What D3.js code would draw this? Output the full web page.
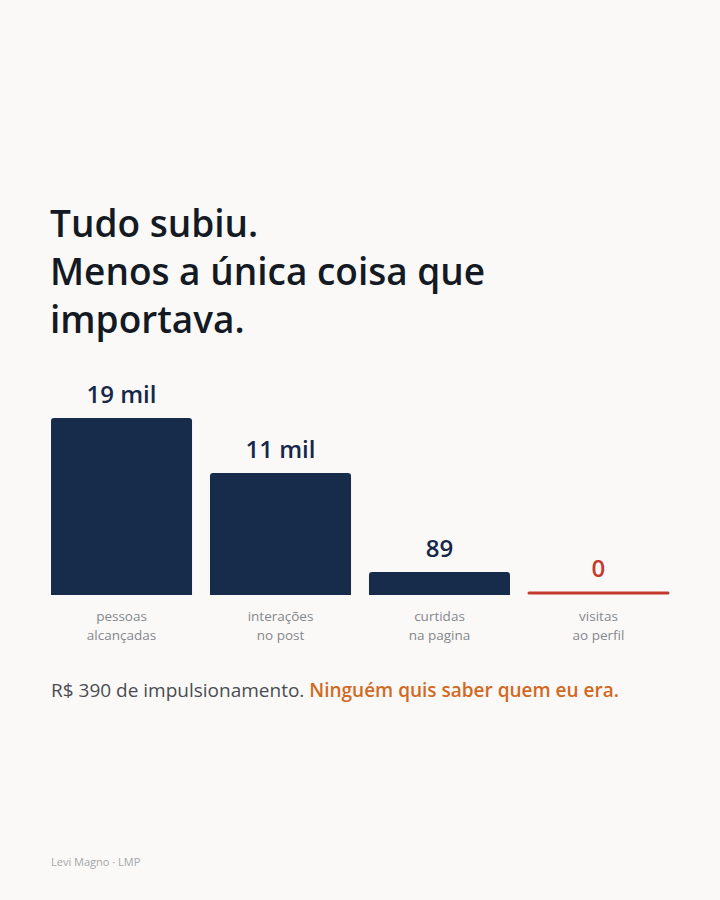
<!DOCTYPE html>
<html lang='pt'>
	<head>
		<meta charset='utf-8'>
		<title>Tudo subiu</title>
		<script type='text/javascript' src='https://cdn.jsdelivr.net/npm/d3@7'></script>
		<style>
			body { margin: 0; background: #faf9f7; }
			text { font-family: 'Open Sans', 'Noto Sans', sans-serif; }
		</style>
	</head>
	<body>
		<svg id='svg' width='720' height='900'></svg>
		<script type='text/javascript'>
		{
			var categories = ['pessoas|alcançadas', 'interações|no post', 'curtidas|na pagina', 'visitas|ao perfil'];
			var values = [19000, 11000, 89, 0];
			var value_labels = ['19 mil', '11 mil', '89', '0'];
			var title_lines = ['Tudo subiu.', 'Menos a única coisa que', 'importava.'];

			var svg = d3.select('#svg');
			svg.append('rect').attr('width', 720).attr('height', 900).attr('fill', '#faf9f7');

			var base_y = 595;
			var min_h = 23;

			svg.selectAll('.title').data(title_lines).enter().append('text')
				.attr('class', 'title')
				.attr('x', 50).attr('y', (d, i) => 237 + i * 48)
				.attr('font-size', 37).attr('font-weight', 600).attr('fill', '#141a24')
				.text(d => d);

			var x = d3.scaleBand().domain(d3.range(values.length)).range([51, 669]).paddingInner(0.113);
			var y = d3.scalePow().exponent(0.68).domain([0, d3.max(values)]).range([0, 177]);
			var bar_h = v => v > 0 ? Math.max(min_h, y(v)) : 0;

			var g = svg.selectAll('.bar').data(values).enter().append('g')
				.attr('class', 'bar')
				.attr('transform', (d, i) => 'translate(' + x(i) + ',0)');

			// rounded top corners only
			g.filter(d => d > 0).append('path')
				.attr('fill', '#172b4b')
				.attr('d', d => {
					var w = x.bandwidth(), h = bar_h(d), r = 3;
					return 'M0,' + base_y + 'V' + (base_y - h + r) + 'Q0,' + (base_y - h) + ' ' + r + ',' + (base_y - h)
						+ 'H' + (w - r) + 'Q' + w + ',' + (base_y - h) + ' ' + w + ',' + (base_y - h + r) + 'V' + base_y + 'Z';
				});

			g.filter(d => d === 0).append('line')
				.attr('x1', 1).attr('x2', x.bandwidth() - 1)
				.attr('y1', base_y - 2).attr('y2', base_y - 2)
				.attr('stroke', '#c43a2e').attr('stroke-width', 3).attr('stroke-linecap', 'round');

			g.append('text')
				.attr('x', x.bandwidth() / 2)
				.attr('y', d => base_y - (d > 0 ? bar_h(d) : 3) - 15)
				.attr('text-anchor', 'middle').attr('font-size', 24).attr('font-weight', 600)
				.attr('fill', d => d > 0 ? '#15274a' : '#c43a2e')
				.text((d, i) => value_labels[i]);

			g.each(function(d, i) {
				var t = d3.select(this).append('text')
					.attr('text-anchor', 'middle').attr('font-size', 13.5).attr('fill', '#85888e');
				categories[i].split('|').forEach((line, j) => {
					t.append('tspan').attr('x', x.bandwidth() / 2).attr('y', 621 + j * 19).text(line);
				});
			});

			var foot = svg.append('text').attr('x', 51).attr('y', 697).attr('font-size', 19);
			foot.append('tspan').attr('fill', '#4a4d52').text('R$ 390 de impulsionamento. ');
			foot.append('tspan').attr('fill', '#d2691f').attr('font-weight', 600).text('Ninguém quis saber quem eu era.');

			svg.append('text').attr('x', 51).attr('y', 866)
				.attr('font-size', 11).attr('fill', '#a4a6a9')
				.text('Levi Magno · LMP');
		}
		</script>
	</body>
</html>
